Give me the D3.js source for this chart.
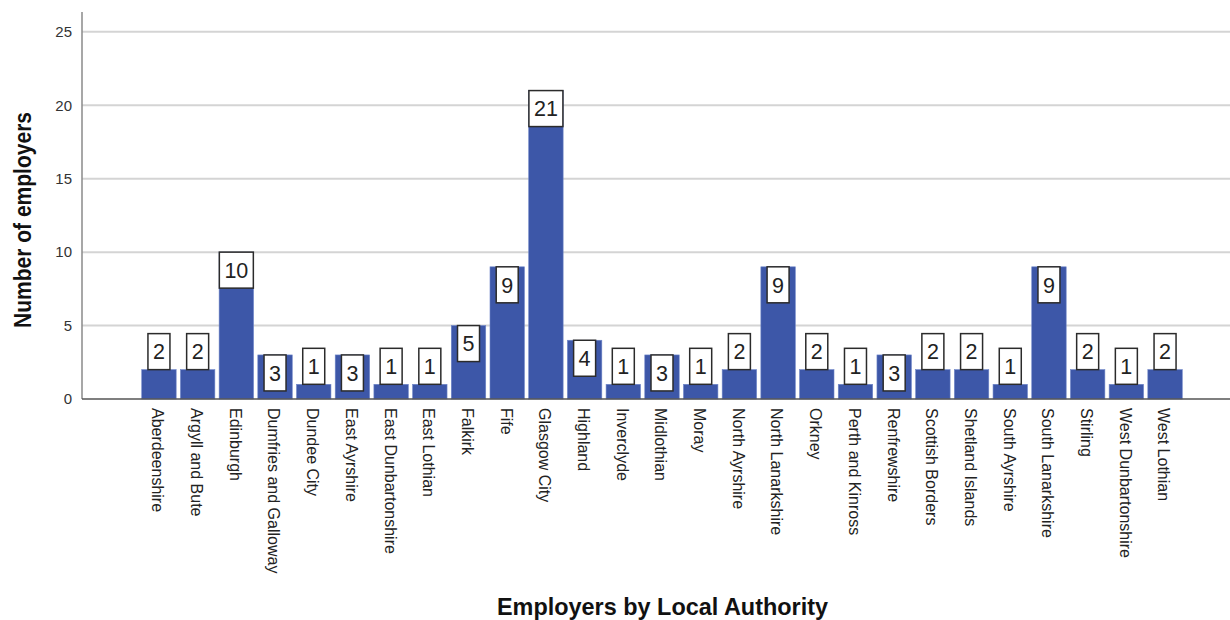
<!DOCTYPE html>
<html>
<head>
<meta charset="utf-8">
<script src="https://cdn.jsdelivr.net/npm/d3@7"></script>
<style>
  html, body { margin: 0; padding: 0; background: #fff; }
  svg { display: block; font-family: "Liberation Sans", Arial, sans-serif; }
</style>
</head>
<body>
<svg id="chart" width="1230" height="620"></svg>
<script>
// Local authorities and employer counts
const authorities = [
  "Aberdeenshire", "Argyll and Bute", "Edinburgh", "Dumfries and Galloway",
  "Dundee City", "East Ayrshire", "East Dunbartonshire", "East Lothian",
  "Falkirk", "Fife", "Glasgow City", "Highland", "Inverclyde", "Midlothian",
  "Moray", "North Ayrshire", "North Lanarkshire", "Orkney", "Perth and Kinross",
  "Renfrewshire", "Scottish Borders", "Shetland Islands", "South Ayrshire",
  "South Lanarkshire", "Stirling", "West Dunbartonshire", "West Lothian"
];
const employers = [2, 2, 10, 3, 1, 3, 1, 1, 5, 9, 21, 4, 1, 3, 1, 2, 9, 2, 1, 3, 2, 2, 1, 9, 2, 1, 2];
const yTicks = [0, 5, 10, 15, 20, 25];
const xTitle = "Employers by Local Authority";
const yTitle = "Number of employers";

const svg = d3.select("#chart");
const plotLeft = 82, plotRight = 1230, plotTop = 12, plotBase = 399;

const x = d3.scaleBand()
  .domain(authorities)
  .range([139.6, 1184.4])
  .paddingInner(0.11)
  .paddingOuter(0.055);

const y = d3.scaleLinear()
  .domain([0, 26.35])
  .range([plotBase, plotTop]);

// Horizontal gridlines
svg.append("g")
  .selectAll("line")
  .data(yTicks.filter(d => d > 0))
  .join("line")
  .attr("x1", plotLeft).attr("x2", plotRight)
  .attr("y1", d => y(d)).attr("y2", d => y(d))
  .attr("stroke", "#d4d4d4")
  .attr("stroke-width", 2);

// Y axis
const yAxis = svg.append("g")
  .attr("transform", `translate(${plotLeft},0)`)
  .call(d3.axisLeft(y).tickValues(yTicks).tickSize(0).tickPadding(10));
yAxis.select(".domain").remove();
yAxis.selectAll("text")
  .attr("font-size", 15)
  .attr("font-family", "Liberation Sans, Arial, sans-serif")
  .attr("fill", "#333");

svg.append("line")
  .attr("x1", plotLeft).attr("x2", plotLeft)
  .attr("y1", plotTop).attr("y2", plotBase)
  .attr("stroke", "#8a8a8a").attr("stroke-width", 1.5);

// Bars
svg.append("g")
  .selectAll("rect")
  .data(authorities.map((a, i) => ({ a, v: employers[i] })))
  .join("rect")
  .attr("x", d => x(d.a))
  .attr("width", x.bandwidth())
  .attr("y", d => y(d.v))
  .attr("height", d => y(0) - y(d.v))
  .attr("fill", "#3d57a8")
  .attr("stroke", "#6f86c8")
  .attr("stroke-width", 0.6);

// Baseline / x axis line
svg.append("line")
  .attr("x1", plotLeft).attr("x2", plotRight)
  .attr("y1", plotBase).attr("y2", plotBase)
  .attr("stroke", "#555").attr("stroke-width", 1.5);

// Value labels in boxes: inside the bar top when it fits, above it otherwise
const boxH = 36;
const labels = svg.append("g")
  .selectAll("g")
  .data(authorities.map((a, i) => ({ a, v: employers[i] })))
  .join("g")
  .attr("transform", d => {
    const cx = x(d.a) + x.bandwidth() / 2;
    const barH = y(0) - y(d.v);
    const topY = barH >= boxH ? y(d.v) : y(d.v) - boxH;
    return `translate(${cx},${topY})`;
  });

labels.append("rect")
  .attr("x", d => -(String(d.v).length > 1 ? 17 : 11))
  .attr("width", d => String(d.v).length > 1 ? 34 : 22)
  .attr("y", 0)
  .attr("height", boxH)
  .attr("fill", "#fff")
  .attr("stroke", "#2b2b2b")
  .attr("stroke-width", 1.5);

labels.append("text")
  .attr("x", 0)
  .attr("y", boxH / 2)
  .attr("dy", "0.36em")
  .attr("text-anchor", "middle")
  .attr("font-size", 21.5)
  .attr("fill", "#222")
  .text(d => d.v);

// Category labels, rotated
svg.append("g")
  .selectAll("text")
  .data(authorities)
  .join("text")
  .attr("transform", d => `translate(${x(d) + x.bandwidth() / 2 - 1},408) rotate(90)`)
  .attr("dy", "0.35em")
  .attr("text-anchor", "start")
  .attr("font-size", 16)
  .attr("fill", "#222")
  .text(d => d);

// Axis titles
svg.append("text")
  .attr("x", 662.5)
  .attr("y", 615)
  .attr("text-anchor", "middle")
  .attr("font-size", 23.4)
  .attr("font-weight", "bold")
  .attr("fill", "#111")
  .attr("textLength", 331)
  .attr("lengthAdjust", "spacingAndGlyphs")
  .text(xTitle);

svg.append("text")
  .attr("transform", "translate(31,220) rotate(-90)")
  .attr("text-anchor", "middle")
  .attr("font-size", 24)
  .attr("font-weight", "bold")
  .attr("fill", "#111")
  .attr("textLength", 216)
  .attr("lengthAdjust", "spacingAndGlyphs")
  .text(yTitle);
</script>
</body>
</html>
